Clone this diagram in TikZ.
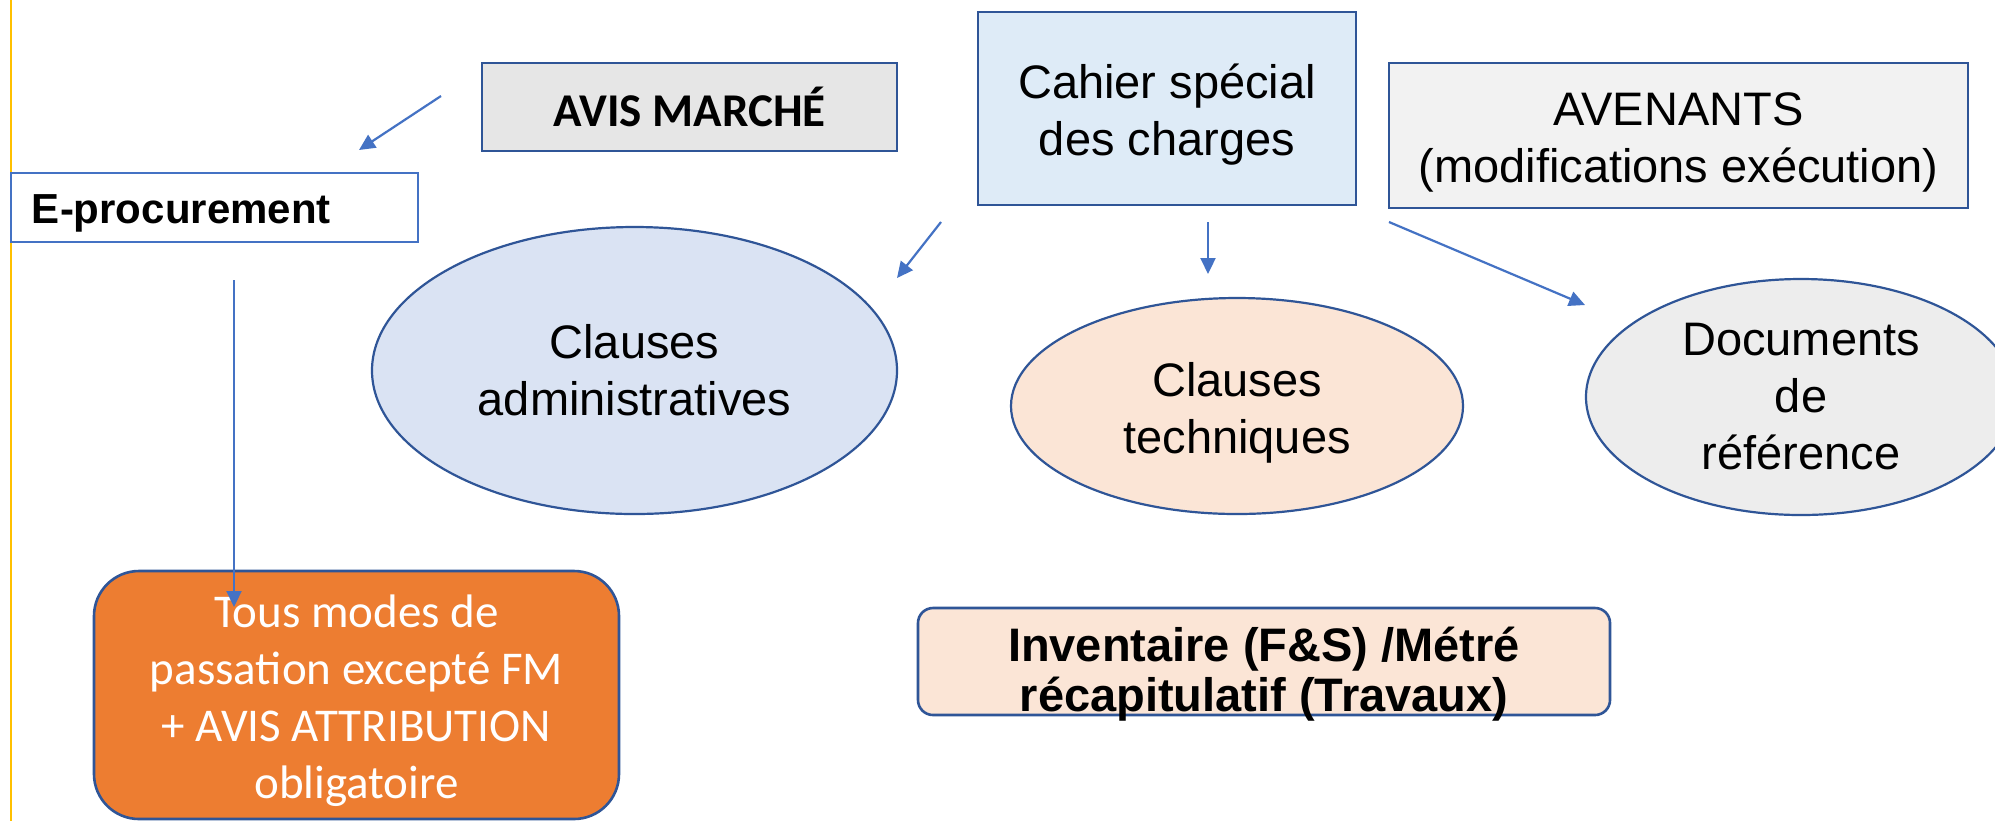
\documentclass[tikz,border=0pt]{standalone}
\usepackage{fontspec}
\setmainfont{Liberation Sans}
\newfontfamily\calibri{Carlito}
\usetikzlibrary{shapes.geometric,arrows.meta}
\definecolor{bord}{HTML}{2F5597}
\definecolor{arr}{HTML}{4472C4}
\definecolor{gold}{HTML}{FFC000}
\definecolor{avisfill}{HTML}{E6E6E6}
\definecolor{cahierfill}{HTML}{DEEBF7}
\definecolor{avenfill}{HTML}{F2F2F2}
\definecolor{adminfill}{HTML}{DAE3F3}
\definecolor{peach}{HTML}{FBE5D6}
\definecolor{docfill}{HTML}{EDEDED}
\definecolor{orangefill}{HTML}{ED7D31}
\newcommand{\mystrut}[1]{\rule{0pt}{#1}}
\tikzset{
  basebox/.style={draw=bord, line width=1.3pt, inner sep=0pt, align=center,
    font=\fontsize{23.5}{28.5}\selectfont},
  rectbox/.style={basebox, rectangle},
  ellbox/.style={basebox, ellipse, line width=1.1pt},
  conn/.style={draw=arr, line width=1.1pt, -{Triangle[length=8pt,width=7.5pt]}},
}
\begin{document}
\begin{tikzpicture}[x=0.5pt,y=-0.5pt]
\useasboundingbox (0,0) rectangle (1995,821);
\clip (0,0) rectangle (1995,821);
\fill[white] (0,0) rectangle (1995,821);
% left rule
\draw[gold, line width=1pt] (10.5,0) -- (10.5,821);

% boxes
\node[rectbox, fill=avisfill, minimum width=207.5pt, minimum height=44pt,
      font=\calibri\bfseries\fontsize{23.5}{28.5}\selectfont] (avis) at (689.5,107) {AVIS MARCHÉ};
\node[rectbox, fill=cahierfill, minimum width=189pt, minimum height=96.5pt] (cahier) at (1167,108.5)
  {\mystrut{23pt}Cahier spécial\\des charges};
\node[rectbox, fill=avenfill, minimum width=289.5pt, minimum height=72.5pt] (avenants) at (1678.5,135.5)
  {\mystrut{23pt}AVENANTS\\(modifications exécution)};
\node[rectbox, draw=arr, fill=white, minimum height=34.5pt, text width=182.5pt, align=left,
      inner xsep=10.5pt, inner ysep=0pt, font=\bfseries\fontsize{21}{25}\selectfont] (eproc) at (214.5,207.5)
  {\mystrut{20pt}E-procurement};

% ellipses
\node[ellbox, fill=adminfill, minimum width=262.5pt, minimum height=143.5pt] (admin) at (634.5,370.5)
  {Clauses\\administratives};
\node[ellbox, fill=peach, minimum width=226pt, minimum height=108pt] (tech) at (1237,406)
  {\mystrut{24pt}Clauses\\techniques};
\node[ellbox, fill=docfill, minimum width=215pt, minimum height=118pt] (docs) at (1801,397)
  {Documents\\de\\référence};

% bottom boxes
\node[rectbox, fill=orangefill, rounded corners=22.5pt, minimum width=262.5pt, minimum height=124pt,
      text=white, font=\calibri\fontsize{23.5}{28.5}\selectfont] (modes) at (356.5,695)
  {\mystrut{22.3pt}Tous modes de\\passation excepté FM\\+ AVIS ATTRIBUTION\\obligatoire};
\node[rectbox, fill=peach, rounded corners=7.5pt, minimum width=346pt, minimum height=53.5pt,
      label={[inner sep=0pt, align=center, yshift=-6.5pt,
              font=\bfseries\fontsize{23.5}{25}\selectfont]center:Inventaire (F\&S) /Métré\\récapitulatif (Travaux)}]
  (inv) at (1264,661.5) {};

% connector end points
\coordinate (a1s) at (441,96);   \coordinate (a1e) at (359,150);
\coordinate (a2s) at (941,222);  \coordinate (a2e) at (897,278);
\coordinate (a3s) at (1208,222); \coordinate (a3e) at (1208,274);
\coordinate (a4s) at (1389,222); \coordinate (a4e) at (1585,305);
\coordinate (a5s) at (234,280);  \coordinate (a5e) at (234,607);

\draw[conn] (a1s) -- (a1e);
\draw[conn] (a2s) -- (a2e);
\draw[conn] (a3s) -- (a3e);
\draw[conn] (a4s) -- (a4e);
\draw[conn] (a5s) -- (a5e);
\end{tikzpicture}
\end{document}
